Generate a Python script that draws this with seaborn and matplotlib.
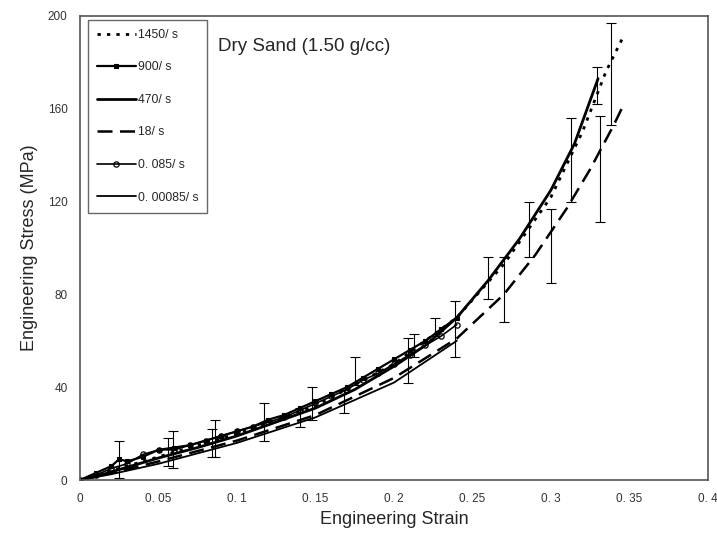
import numpy as np
import seaborn as sns
import matplotlib
matplotlib.use("Agg")
from matplotlib import pyplot as plt

# ---------------------------------------------------------------------------
# Data (strain, stress in MPa)

strain_1450 = [0, 0.02, 0.05, 0.1, 0.15, 0.2, 0.24, 0.27, 0.3, 0.32, 0.335, 0.346]
stress_1450 = [0, 4, 10, 20, 32, 50, 70, 93, 122, 150, 176, 191]

strain_900 = [0, 0.01, 0.02, 0.025, 0.03, 0.04, 0.05, 0.06, 0.07, 0.08, 0.09, 0.1,
              0.11, 0.12, 0.13, 0.14, 0.15, 0.16, 0.17, 0.18, 0.19, 0.2, 0.21, 0.22,
              0.23, 0.24]
stress_900 = [0, 3, 6, 9, 8, 10, 13, 14, 15, 17, 19, 21, 23, 26, 28, 31, 34, 37,
              40, 44, 48, 52, 56, 60, 65, 70]

strain_470 = [0, 0.01, 0.02, 0.03, 0.05, 0.075, 0.1, 0.125, 0.15, 0.175, 0.2, 0.22,
              0.24, 0.26, 0.28, 0.3, 0.315, 0.33]
stress_470 = [0, 1.5, 3.5, 5.5, 9.5, 14, 19, 25, 31, 39, 49, 58, 70, 86, 104, 125,
              145, 173]

strain_18 = [0, 0.02, 0.05, 0.1, 0.15, 0.2, 0.24, 0.27, 0.29, 0.31, 0.325, 0.34, 0.345]
stress_18 = [0, 3, 8, 17, 28, 44, 61, 80, 97, 117, 134, 153, 160]

strain_0085 = [0, 0.01, 0.02, 0.03, 0.04, 0.05, 0.06, 0.07, 0.08, 0.09, 0.1, 0.11,
               0.12, 0.13, 0.14, 0.15, 0.16, 0.17, 0.18, 0.19, 0.2, 0.21, 0.22, 0.23,
               0.24]
stress_0085 = [0, 2, 5, 7, 11, 13, 13, 15, 17, 19, 21, 23, 25, 27, 30, 33, 36, 39,
               43, 46, 50, 54, 58, 62, 67]

strain_000085 = [0, 0.02, 0.05, 0.1, 0.15, 0.2, 0.24]
stress_000085 = [0, 2.5, 7, 16, 27, 42, 60]

# error bars (strain, centre stress, half range)
err_strain = [0.025, 0.056, 0.059, 0.084, 0.086, 0.117, 0.14, 0.148, 0.168, 0.175,
              0.209, 0.213, 0.226, 0.239, 0.26, 0.27, 0.286, 0.30, 0.313, 0.329,
              0.331, 0.338]
err_stress = [9, 12, 13, 16, 18, 25, 27, 33, 34, 47, 51.5, 58, 66, 65, 87, 82, 108,
              101, 138, 170, 134, 175]
err_size = [8, 6, 8, 6, 8, 8, 4, 7, 5, 6, 9.5, 5, 4, 12, 9, 14, 12, 16, 18, 8, 23, 22]

x_ticks = [0, 0.05, 0.1, 0.15, 0.2, 0.25, 0.3, 0.35, 0.4]
x_tick_labels = ["0", "0. 05", "0. 1", "0. 15", "0. 2", "0. 25", "0. 3", "0. 35", "0. 4"]
y_ticks = [0, 40, 80, 120, 160, 200]

# ---------------------------------------------------------------------------
sns.set_style("white")
plt.rcParams['font.family'] = ['Liberation Sans', 'DejaVu Sans']

fig = plt.figure(figsize=(7.17, 5.40), dpi=100)
ax = fig.add_axes([0.1116, 0.1111, 0.8758, 0.8593])

series = [
    (strain_1450, stress_1450, "1450/ s", dict(linestyle=(0, (1.2, 2.2)), linewidth=2.0)),
    (strain_900, stress_900, "900/ s", dict(linestyle="-", linewidth=1.6, marker="s",
                                            markersize=3.2, markerfacecolor="black",
                                            markeredgecolor="black", markeredgewidth=0.8)),
    (strain_470, stress_470, "470/ s", dict(linestyle="-", linewidth=2.0)),
    (strain_18, stress_18, "18/ s", dict(linestyle=(0, (6, 3)), linewidth=1.8)),
    (strain_0085, stress_0085, "0. 085/ s", dict(linestyle="-", linewidth=1.2, marker="o",
                                                markersize=3.8, markerfacecolor="none",
                                                markeredgecolor="black",
                                                markeredgewidth=0.9)),
    (strain_000085, stress_000085, "0. 00085/ s", dict(linestyle="-", linewidth=1.3)),
]

for sx, sy, lab, style in series:
    sns.lineplot(x=sx, y=sy, ax=ax, color="black", label=lab, sort=False,
                 estimator=None, **style)

ax.errorbar(err_strain, err_stress, yerr=err_size, fmt="none", ecolor="black",
            elinewidth=0.8, capsize=3.5, capthick=0.8)

ax.set_xlim(0, 0.4)
ax.set_ylim(0, 200)
ax.set_xticks(x_ticks)
ax.set_xticklabels(x_tick_labels)
ax.set_yticks(y_ticks)
ax.tick_params(axis="both", length=0, labelsize=8.5, colors="#333333", pad=9)

for side in ["left", "right", "top", "bottom"]:
    ax.spines[side].set_visible(True)
    ax.spines[side].set_color("#555555")
    ax.spines[side].set_linewidth(1.2)

ax.set_xlabel("Engineering Strain", fontsize=13, labelpad=5)
ax.set_ylabel("Engineering Stress (MPa)", fontsize=13, labelpad=7)

ax.text(0.088, 187, "Dry Sand (1.50 g/cc)", fontsize=13.5, va="center", ha="left")

leg = ax.legend(loc="upper left", bbox_to_anchor=(0.012, 0.992), fontsize=8.8,
                frameon=True, fancybox=False, edgecolor="#444444", labelspacing=1.68,
                handlelength=3.2, handletextpad=0.15, borderpad=0.75,
                borderaxespad=0)
leg.get_frame().set_linewidth(1.0)

fig.savefig("out.png", dpi=100)
